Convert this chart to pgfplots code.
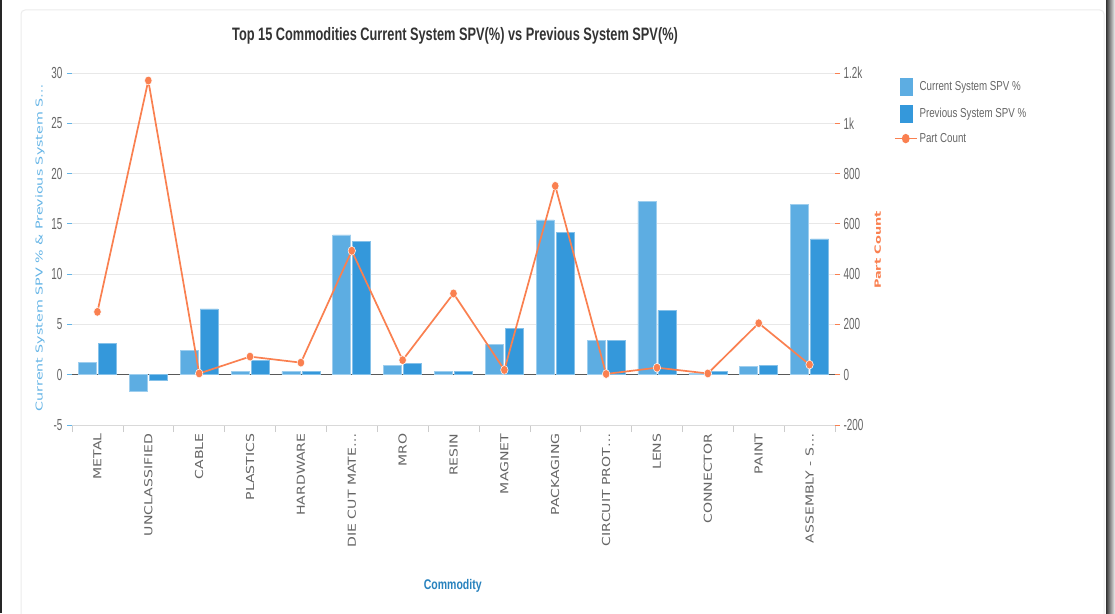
\documentclass[border=0pt]{standalone}
\usepackage{pgfplots}
\usepackage{pgfplotstable}
\pgfplotsset{compat=1.18}
\usepackage{fontspec}
\setmainfont{Liberation Sans}
\newfontfamily\condfont[FakeStretch=0.62]{Liberation Sans}
\newfontfamily\titfont[FakeStretch=0.71]{Liberation Sans}
\newfontfamily\legfont[FakeStretch=0.75]{Liberation Sans}
\newfontfamily\rotfont[FakeStretch=1.28]{DejaVu Sans}
\newfontfamily\ylabfont[FakeStretch=1.5]{DejaVu Sans}
\definecolor{curblue}{RGB}{93,173,226}
\definecolor{preblue}{RGB}{52,152,219}
\definecolor{pcorange}{RGB}{250,128,80}
\definecolor{ylabblue}{RGB}{100,180,230}
\definecolor{xlabblue}{RGB}{40,130,190}
\definecolor{tickgray}{RGB}{102,102,102}
\definecolor{titlegray}{RGB}{51,51,51}

\pgfplotstableread{
x cur prev pc
0 1.2 3.15 250
1 -1.65 -0.6 1170
2 2.45 6.55 5
3 0.3 1.45 72
4 0.3 0.3 48
5 13.9 13.25 493
6 0.9 1.15 58
7 0.3 0.3 323
8 3.05 4.6 19
9 15.4 14.15 751
10 3.38 3.38 3
11 17.2 6.4 28
12 0.15 0.3 5
13 0.8 0.9 205
14 16.9 13.5 40
}\data

\begin{document}
\begin{tikzpicture}
\useasboundingbox (0,0) rectangle (1115pt,613pt);
\fill[white] (0,0) rectangle (1115pt,613pt);
\draw[gray!15, line width=1pt, rounded corners=4pt] (21pt,-10pt) rectangle (1104pt,603pt);
\fill[black!85] (0,0) rectangle (2pt,613pt);
\shade[left color=black!80, right color=gray!10] (1106pt,0) rectangle (1115pt,613pt);

\begin{axis}[
  at={(72pt,188pt)}, anchor=south west, scale only axis,
  width=763pt, height=352pt,
  xmin=-0.5, xmax=14.5, ymin=-5, ymax=30,
  axis x line*=bottom, axis y line*=left,
  x axis line style={draw=gray!30, -},
  y axis line style={draw=none},
  xtick={0,...,14},
  xticklabels={METAL,UNCLASSIFIED,CABLE,PLASTICS,HARDWARE,DIE CUT MATE\dots,MRO,RESIN,MAGNET,PACKAGING,CIRCUIT PROT\dots,LENS,CONNECTOR,PAINT,ASSEMBLY - S\dots},
  major x tick style={draw=none},
  minor xtick={-0.5,0.5,...,14.5},
  minor x tick style={draw=gray!40, line width=0.6pt},
  minor tick length=7pt,
  tick align=outside,
  ytick={-5,0,...,30},
  ytick style={draw=ylabblue, line width=0.8pt},
  major tick length=5pt,
  ymajorgrids, grid style={gray!18, line width=0.8pt},
  /pgf/number format/assume math mode=true,
  yticklabel style={font=\condfont\fontsize{16}{17}\selectfont, text=tickgray, xshift=-1pt},
  xticklabel style={rotate=90, anchor=east, font=\rotfont\fontsize{11}{12}\selectfont, text=tickgray},
  ylabel={Current System SPV \% \& Previous System S\dots},
  ylabel style={at={(axis description cs:-0.042,0.504)}, anchor=center, font=\ylabfont\fontsize{9.5}{10}\selectfont, text=ylabblue},
  xlabel={\textbf{Commodity}},
  xlabel style={at={(axis description cs:0.499,-0.457)}, anchor=center, font=\legfont\fontsize{14}{16}\selectfont, text=xlabblue},
  title={\textbf{Top 15 Commodities Current System SPV(\%) vs Previous System SPV(\%)}},
  title style={at={(axis description cs:0.502,1.088)}, anchor=center, font=\titfont\fontsize{18}{20}\selectfont, text=titlegray},
  clip=false,
]
\addplot[draw=black!65, line width=1.2pt, no marks] coordinates {(-0.5,0) (14.5,0)};
\addplot[ybar, bar width=18pt, bar shift=-10pt, fill=curblue, draw=curblue!60!white, line width=0.6pt] table[x=x, y=cur] {\data};
\addplot[ybar, bar width=18pt, bar shift=10pt, fill=preblue, draw=preblue!60!white, line width=0.6pt] table[x=x, y=prev] {\data};
\end{axis}

\begin{axis}[
  at={(72pt,188pt)}, anchor=south west, scale only axis,
  width=763pt, height=352pt,
  xmin=-0.5, xmax=14.5, ymin=-200, ymax=1200,
  axis x line=none, axis y line*=right,
  y axis line style={draw=none},
  ytick={-200,0,...,1200},
  yticklabels={-200,0,200,400,600,800,1k,1.2k},
  ytick style={draw=pcorange, line width=0.8pt},
  tick align=outside, major tick length=5pt,
  yticklabel style={font=\condfont\fontsize{16}{17}\selectfont, text=tickgray},
  ylabel={\textbf{Part Count}},
  ylabel style={at={(axis description cs:1.056,0.497)}, anchor=center, font=\ylabfont\fontsize{8.6}{10}\selectfont, text=pcorange},
  legend style={at={(axis description cs:1.077,0.985)}, anchor=north west, draw=none, fill=none,
    font=\legfont\fontsize{13}{14}\selectfont, text=tickgray, row sep=9pt, inner sep=0pt},
  legend cell align=left,
  clip=false,
]
\addlegendimage{legend image code/.code={\fill[curblue] (5pt,-8.5pt) rectangle (17pt,8.5pt);}}
\addlegendentry{Current System SPV \%}
\addlegendimage{legend image code/.code={\fill[preblue] (5pt,-8.5pt) rectangle (17pt,8.5pt);}}
\addlegendentry{Previous System SPV \%}
\addplot[pcorange, line width=1.7pt, mark=*, mark size=4.4pt,
  mark options={fill=pcorange, draw=white, line width=0.5pt, xscale=0.85},
  legend image code/.code={\draw[pcorange, line width=1.6pt] (0pt,0pt) -- (22pt,0pt); \fill[pcorange] (11pt,0pt) ellipse (3pt and 3.8pt);}]
  table[x=x, y=pc] {\data};
\addlegendentry{Part Count}
\end{axis}
\end{tikzpicture}
\end{document}
